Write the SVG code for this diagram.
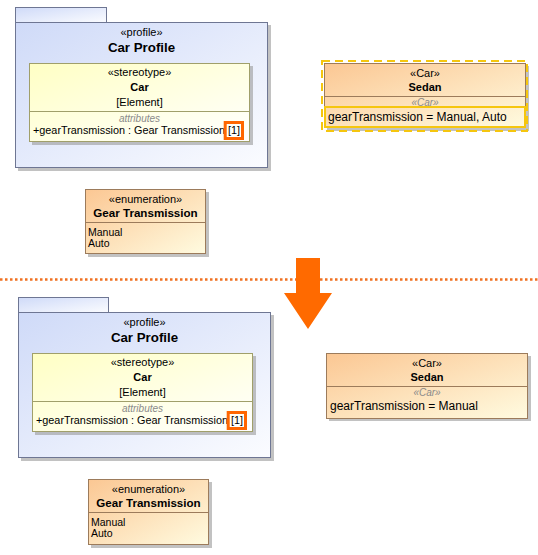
<svg xmlns="http://www.w3.org/2000/svg" width="538" height="555" viewBox="0 0 538 555">
<defs>
<linearGradient id="gPkg" x1="0" y1="0" x2="1" y2="1">
<stop offset="0" stop-color="#cfdaf8"/><stop offset="1" stop-color="#fbfcff"/>
</linearGradient>
<linearGradient id="gSt" x1="0" y1="0" x2="1" y2="1">
<stop offset="0" stop-color="#ffffc4"/><stop offset="1" stop-color="#ffffff"/>
</linearGradient>
<linearGradient id="gOr" x1="0" y1="0" x2="1" y2="1">
<stop offset="0" stop-color="#fbc793"/><stop offset="1" stop-color="#fffbe0"/>
</linearGradient>
</defs>
<style>
text{font-family:"Liberation Sans",Arial,sans-serif;font-size:11px;fill:#000}
.c{text-anchor:middle}
.b{font-weight:bold}
.bn{font-weight:bold;font-size:11.6px}
.t{font-size:13.3px;font-weight:bold}
.it{font-style:italic;fill:#8a8a8a;font-size:10px}
.sl{font-size:12px}
.li{font-size:10.5px}
.sh{fill:#9a9a9a;opacity:0.6}
.pkg{fill:url(#gPkg);stroke:#6e7693;stroke-width:1}
.st{fill:url(#gSt);stroke:#a09f6a;stroke-width:1}
.or{fill:url(#gOr);stroke:#9c7b5b;stroke-width:1}
.hl{fill:none;stroke:#ff6600;stroke-width:3}
.yl{fill:none;stroke:#f5c60f;stroke-width:2}
</style>

<g id="profile-top">
<rect class="sh" x="18" y="25" width="253" height="146"/>
<rect class="pkg" x="15.5" y="7.5" width="91" height="15"/>
<rect class="pkg" x="15.5" y="22.5" width="252" height="145"/>
<text class="c" x="141.5" y="36">«profile»</text>
<text class="c t" x="141.5" y="52">Car Profile</text>
</g>
<g id="stereotype-top">
<rect class="sh" x="32" y="66" width="221" height="79"/>
<rect class="st" x="29.5" y="63.5" width="220" height="78"/>
<line x1="29.5" y1="111.5" x2="249.5" y2="111.5" stroke="#a09f6a"/>
<text class="c" x="139.5" y="76">«stereotype»</text>
<text class="c b" x="139.5" y="91">Car</text>
<text class="c" x="139.5" y="106">[Element]</text>
<text class="c it" x="139.5" y="122">attributes</text>
<text x="33" y="134" textLength="207" lengthAdjust="spacingAndGlyphs">+gearTransmission : Gear Transmission [1]</text>
<rect class="hl" x="225.2" y="122.5" width="17.3" height="16"/>
</g>
<g id="sedan-top">
<rect class="sh" x="327" y="66" width="202" height="65"/>
<rect class="or" x="324.5" y="63.5" width="201" height="64"/>
<line x1="324.5" y1="96.5" x2="525.5" y2="96.5" stroke="#9c7b5b"/>
<text class="c" x="425" y="77">«Car»</text>
<text class="c b" x="425" y="91">Sedan</text>
<text class="c it" x="425" y="106">«Car»</text>
<rect class="yl" x="325" y="107" width="200" height="20"/>
<text class="sl" x="328" y="121">gearTransmission = Manual, Auto</text>
<rect class="yl" x="322" y="61" width="205" height="70" stroke-dasharray="8,5"/>
</g>
<g id="enum-top">
<rect class="sh" x="88" y="192" width="121" height="65"/>
<rect class="or" x="85.5" y="189.5" width="120" height="64"/>
<line x1="85.5" y1="222.5" x2="205.5" y2="222.5" stroke="#9c7b5b"/>
<text class="c" x="145.5" y="203">«enumeration»</text>
<text class="c bn" x="145.5" y="217">Gear Transmission</text>
<text class="li" x="88" y="236">Manual</text>
<text class="li" x="88" y="247">Auto</text>
</g>

<g id="transition">
<line x1="0" y1="279.5" x2="538" y2="279.5" stroke="#f07020" stroke-width="2.5" stroke-dasharray="2.5,2.5"/>
<polygon points="296,258 320,258 320,293 332,293 308,329 284,293 296,293" fill="#ff6a00"/>
</g>

<g id="profile-bottom">
<rect class="sh" x="21" y="315" width="253" height="146"/>
<rect class="pkg" x="18.5" y="297.5" width="90" height="15"/>
<rect class="pkg" x="18.5" y="312.5" width="252" height="145"/>
<text class="c" x="144.5" y="326">«profile»</text>
<text class="c t" x="144.5" y="342">Car Profile</text>
</g>
<g id="stereotype-bottom">
<rect class="sh" x="35" y="356" width="221" height="79"/>
<rect class="st" x="32.5" y="353.5" width="220" height="78"/>
<line x1="32.5" y1="401.5" x2="252.5" y2="401.5" stroke="#a09f6a"/>
<text class="c" x="142.5" y="366">«stereotype»</text>
<text class="c b" x="142.5" y="381">Car</text>
<text class="c" x="142.5" y="396">[Element]</text>
<text class="c it" x="142.5" y="412">attributes</text>
<text x="36" y="424" textLength="207" lengthAdjust="spacingAndGlyphs">+gearTransmission : Gear Transmission [1]</text>
<rect class="hl" x="228.2" y="412.5" width="17.3" height="16"/>
</g>
<g id="sedan-bottom">
<rect class="sh" x="329" y="356" width="202" height="65"/>
<rect class="or" x="326.5" y="353.5" width="201" height="65"/>
<line x1="326.5" y1="386.5" x2="527.5" y2="386.5" stroke="#9c7b5b"/>
<text class="c" x="427" y="367">«Car»</text>
<text class="c b" x="427" y="381">Sedan</text>
<text class="c it" x="427" y="396">«Car»</text>
<text class="sl" x="330" y="410">gearTransmission = Manual</text>
</g>
<g id="enum-bottom">
<rect class="sh" x="91" y="482" width="121" height="66"/>
<rect class="or" x="88.5" y="479.5" width="120" height="65"/>
<line x1="88.5" y1="512.5" x2="208.5" y2="512.5" stroke="#9c7b5b"/>
<text class="c" x="148.5" y="493">«enumeration»</text>
<text class="c bn" x="148.5" y="507">Gear Transmission</text>
<text class="li" x="91" y="526">Manual</text>
<text class="li" x="91" y="537">Auto</text>
</g>
</svg>
